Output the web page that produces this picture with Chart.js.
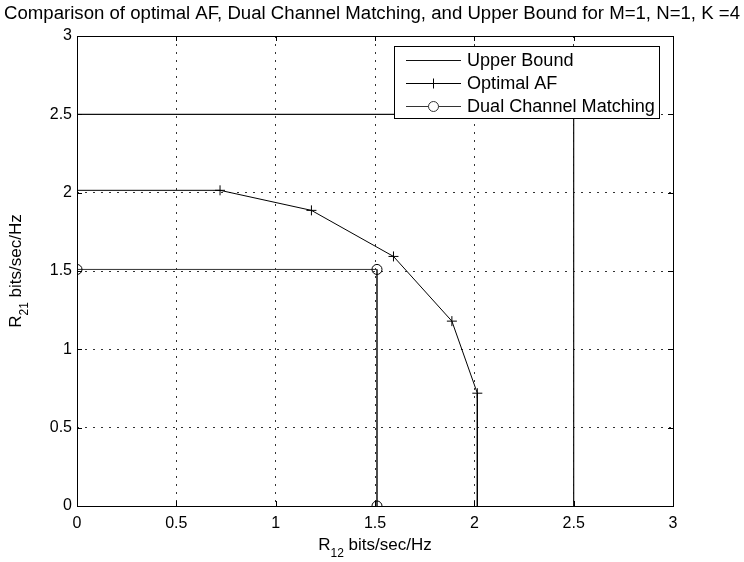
<!DOCTYPE html>
<html><head><meta charset="utf-8">
<script src="https://cdn.jsdelivr.net/npm/chart.js@4"></script>
<style>html,body{margin:0;padding:0;background:#fff}canvas{display:block}</style>
</head><body>
<canvas id="c" width="744" height="562"></canvas>
<script>
const titleText = "Comparison of optimal AF, Dual Channel Matching, and Upper Bound for M=1, N=1, K =4";
const seriesLabels = ["Upper Bound", "Optimal AF", "Dual Channel Matching"];
const upperX = [0, 2.5, 2.5];
const upperY = [2.5, 2.5, 0];
const afX = [0, 0.72, 1.18, 1.593, 1.887, 2.015, 2.015];
const afY = [2.015, 2.015, 1.887, 1.593, 1.18, 0.72, 0];
const afMarker = [false, true, true, true, true, true, false];
const dualX = [0, 1.51, 1.51];
const dualY = [1.51, 1.51, 0];
const xTicks = [0, 0.5, 1, 1.5, 2, 2.5, 3];
const yTicks = [0, 0.5, 1, 1.5, 2, 2.5, 3];
const xLabelMain = "R", xLabelSub = "12", xLabelRest = " bits/sec/Hz";
const yLabelMain = "R", yLabelSub = "21", yLabelRest = " bits/sec/Hz";

const FONT = "'Liberation Sans', Arial, Helvetica, sans-serif";
const pts = (xs, ys) => xs.map((x, i) => ({x: x, y: ys[i]}));

function fitFont(ctx, text, width) {
  ctx.font = "100px " + FONT;
  return 100 * width / ctx.measureText(text).width;
}

const decor = {
  id: 'decor',
  afterDraw(chart) {
    const ctx = chart.ctx, a = chart.chartArea;
    const xs = chart.scales.x, ys = chart.scales.y;
    ctx.save();
    // box
    ctx.strokeStyle = '#000'; ctx.lineWidth = 1; ctx.setLineDash([]);
    ctx.strokeRect(Math.round(a.left) + 0.5, Math.round(a.top) + 0.5, Math.round(a.right - a.left), Math.round(a.bottom - a.top));
    // inward ticks
    ctx.beginPath();
    xTicks.forEach(v => {
      const p = Math.round(xs.getPixelForValue(v)) + 0.5;
      ctx.moveTo(p, a.bottom); ctx.lineTo(p, a.bottom - 5);
      ctx.moveTo(p, a.top); ctx.lineTo(p, a.top + 5);
    });
    yTicks.forEach(v => {
      const p = Math.round(ys.getPixelForValue(v)) + 0.5;
      ctx.moveTo(a.left, p); ctx.lineTo(a.left + 5, p);
      ctx.moveTo(a.right, p); ctx.lineTo(a.right - 5, p);
    });
    ctx.stroke();
    // title
    ctx.fillStyle = '#000';
    const tfs = fitFont(ctx, titleText, 737);
    ctx.font = tfs.toFixed(2) + "px " + FONT;
    ctx.textAlign = 'center'; ctx.textBaseline = 'alphabetic';
    ctx.fillText(titleText, 372, 19);
    // x label
    const fs = 17, sfs = 12;
    ctx.textAlign = 'left';
    ctx.font = fs + "px " + FONT; const w1 = ctx.measureText(xLabelMain).width;
    const w3 = ctx.measureText(xLabelRest).width;
    ctx.font = sfs + "px " + FONT; const w2 = ctx.measureText(xLabelSub).width;
    let x0 = (a.left + a.right) / 2 - (w1 + w2 + w3) / 2;
    ctx.font = fs + "px " + FONT; ctx.fillText(xLabelMain, x0, 550);
    ctx.font = sfs + "px " + FONT; ctx.fillText(xLabelSub, x0 + w1, 557);
    ctx.font = fs + "px " + FONT; ctx.fillText(xLabelRest, x0 + w1 + w2, 550);
    // y label
    ctx.save();
    ctx.translate(21, (a.top + a.bottom) / 2);
    ctx.rotate(-Math.PI / 2);
    ctx.font = fs + "px " + FONT; const v1 = ctx.measureText(yLabelMain).width, v3 = ctx.measureText(yLabelRest).width;
    ctx.font = sfs + "px " + FONT; const v2 = ctx.measureText(yLabelSub).width;
    let s0 = -(v1 + v2 + v3) / 2;
    ctx.font = fs + "px " + FONT; ctx.fillText(yLabelMain, s0, 0);
    ctx.font = sfs + "px " + FONT; ctx.fillText(yLabelSub, s0 + v1, 7);
    ctx.font = fs + "px " + FONT; ctx.fillText(yLabelRest, s0 + v1 + v2, 0);
    ctx.restore();
    // legend
    const L = 394.5, T = 46.5, R = 659.5, B = 118.5;
    ctx.fillStyle = '#fff'; ctx.fillRect(L, T, R - L, B - T);
    ctx.strokeStyle = '#000'; ctx.strokeRect(L, T, R - L, B - T);
    const lfs = fitFont(ctx, seriesLabels[2], 188);
    const rows = [60, 83, 106];
    chart.data.datasets.forEach((ds, i) => {
      const y = rows[i] + 0.5;
      ctx.strokeStyle = ds.borderColor; ctx.lineWidth = 1;
      ctx.beginPath(); ctx.moveTo(406, y); ctx.lineTo(461, y); ctx.stroke();
      const cx = 433.5;
      if (ds.legendMarker === 'cross') {
        ctx.beginPath(); ctx.moveTo(cx - 5, y); ctx.lineTo(cx + 5, y);
        ctx.moveTo(cx, y - 5); ctx.lineTo(cx, y + 5); ctx.stroke();
      } else if (ds.legendMarker === 'circle') {
        ctx.fillStyle = '#fff';
        ctx.beginPath(); ctx.arc(cx, y, 5, 0, Math.PI * 2); ctx.fill(); ctx.stroke();
      }
      ctx.fillStyle = '#000';
      ctx.font = lfs.toFixed(2) + "px " + FONT;
      ctx.textAlign = 'left'; ctx.textBaseline = 'middle';
      ctx.fillText(ds.label, 467, y + 1);
    });
    ctx.restore();
  }
};

new Chart(document.getElementById('c'), {
  type: 'scatter',
  data: {
    datasets: [
      { label: seriesLabels[0], data: pts(upperX, upperY), showLine: true,
        borderColor: '#111', borderWidth: 1.2, pointRadius: 0, legendMarker: 'none' },
      { label: seriesLabels[1], data: pts(afX, afY), showLine: true,
        borderColor: '#000', borderWidth: 1, pointStyle: 'cross',
        pointRadius: afMarker.map(m => m ? 5 : 0), pointBorderColor: '#000', pointBorderWidth: 1,
        legendMarker: 'cross' },
      { label: seriesLabels[2], data: pts(dualX, dualY), showLine: true,
        borderColor: '#333', borderWidth: 1, pointStyle: 'circle', pointRadius: 5,
        pointBackgroundColor: 'rgba(0,0,0,0)', pointBorderColor: '#000', pointBorderWidth: 1,
        legendMarker: 'circle' }
    ]
  },
  options: {
    responsive: false, devicePixelRatio: 1, animation: false,
    layout: { padding: { left: 0, right: 71, top: 36, bottom: 0 } },
    plugins: { legend: { display: false }, title: { display: false }, tooltip: { enabled: false } },
    elements: { line: { tension: 0 } },
    scales: {
      x: {
        type: 'linear', min: 0, max: 3,
        afterBuildTicks: s => { s.ticks = xTicks.map(v => ({value: v})); },
        afterFit: s => { s.height = 56; },
        ticks: { color: '#000', font: { family: FONT, size: 16 }, padding: 8, maxRotation: 0,
                 callback: v => String(v) },
        grid: { color: '#333', lineWidth: 1, drawTicks: false },
        border: { display: false, dash: [2, 6] }
      },
      y: {
        type: 'linear', min: 0, max: 3,
        afterBuildTicks: s => { s.ticks = yTicks.map(v => ({value: v})); },
        afterFit: s => { s.width = 77; },
        ticks: { color: '#000', font: { family: FONT, size: 16 }, padding: 5,
                 callback: v => String(v) },
        grid: { color: '#333', lineWidth: 1, drawTicks: false },
        border: { display: false, dash: [2, 6] }
      }
    }
  },
  plugins: [decor]
});
</script>
</body></html>
